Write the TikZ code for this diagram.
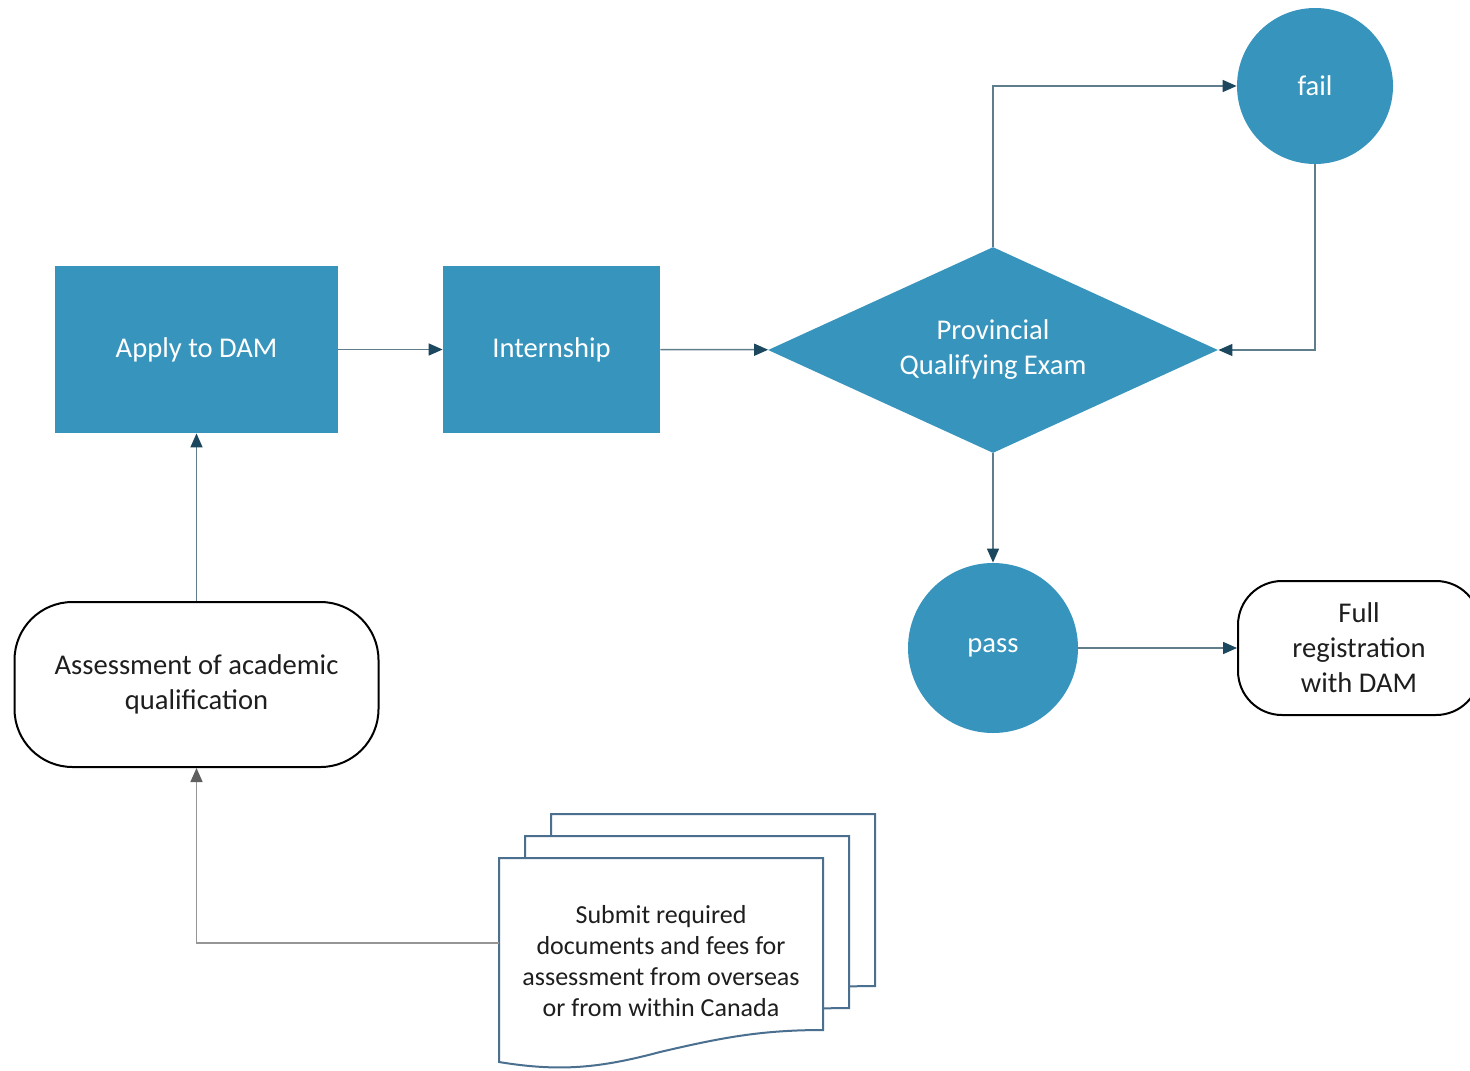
\documentclass[tikz,border=0pt]{standalone}
\usepackage{fontspec}
\setmainfont{Carlito}
\usetikzlibrary{shapes.geometric,arrows.meta}
\definecolor{boxblue}{RGB}{55,149,189}
\definecolor{linegray}{RGB}{96,125,139}
\definecolor{tipdark}{RGB}{27,72,94}
\definecolor{docblue}{RGB}{74,111,143}
\definecolor{feedgray}{RGB}{150,150,150}
\definecolor{feedtip}{RGB}{95,95,95}
\definecolor{textdark}{RGB}{30,30,30}
\begin{document}
\begin{tikzpicture}[x=0.5pt,y=-0.5pt,
  font=\fontsize{14.3}{17.5}\selectfont,
  filled/.style={fill=boxblue,text=white,align=center,inner sep=0pt},
  term/.style={draw=black,line width=1pt,align=center,text=textdark,inner sep=0pt},
  docpage/.style={draw=docblue,line width=1pt,fill=white},
  link/.style={draw=linegray,line width=0.75pt,-{Triangle[length=7pt,width=6pt,color=tipdark]}},
  feed/.style={draw=feedgray,line width=0.75pt,-{Triangle[length=7pt,width=6pt,color=feedtip]}}]
\useasboundingbox (0,0) rectangle (1470,1070);
\node[filled,minimum width=141.5pt,minimum height=83.5pt] (1) at (196.5,349.5) {Apply to DAM};
\node[filled,minimum width=108.5pt,minimum height=83.5pt] (2) at (551.5,349.5) {Internship};
\node[filled,diamond,aspect=2.18,minimum width=225pt,minimum height=103pt] (3) at (993,350) {Provincial\\Qualifying Exam};
\node[filled,circle,minimum size=78pt] (4) at (1315,86) {fail};
\node[term,rounded corners=29pt,minimum width=182pt,minimum height=82.5pt] (5) at (196.5,684.5) {Assessment of academic\\qualification};
\node[filled,circle,minimum size=85pt] (6) at (993,648) {pass};
\node[term,rounded corners=22pt,minimum width=121pt,minimum height=67pt] (7) at (1359,648) {Full\\registration\\with DAM};
\foreach \d in {2,1,0}
  \draw[docpage,shift={(26*\d,-22*\d)}] (499,1062) -- (499,858) -- (823,858) -- (823,1030)
    .. controls (760,1030) and (720,1038) .. (660,1052)
    .. controls (600,1068) and (560,1072) .. (499,1062) -- cycle;
\node[align=center,text=textdark,font=\fontsize{13}{15.5}\selectfont] (9) at (661,961) {Submit required\\documents and fees for\\assessment from overseas\\or from within Canada};
\coordinate (8) at (499,943);
\path[link] (5) -- (1);
\path[link] (1) -- (2);
\path[link] (2) -- (3);
\path[link] (3.north) |- (4);
\path[link] (4.south) |- (3.east);
\path[link] (3) -- (6);
\path[link] (6) -- (7);
\path[feed] (8) -| (5);
\end{tikzpicture}
\end{document}
